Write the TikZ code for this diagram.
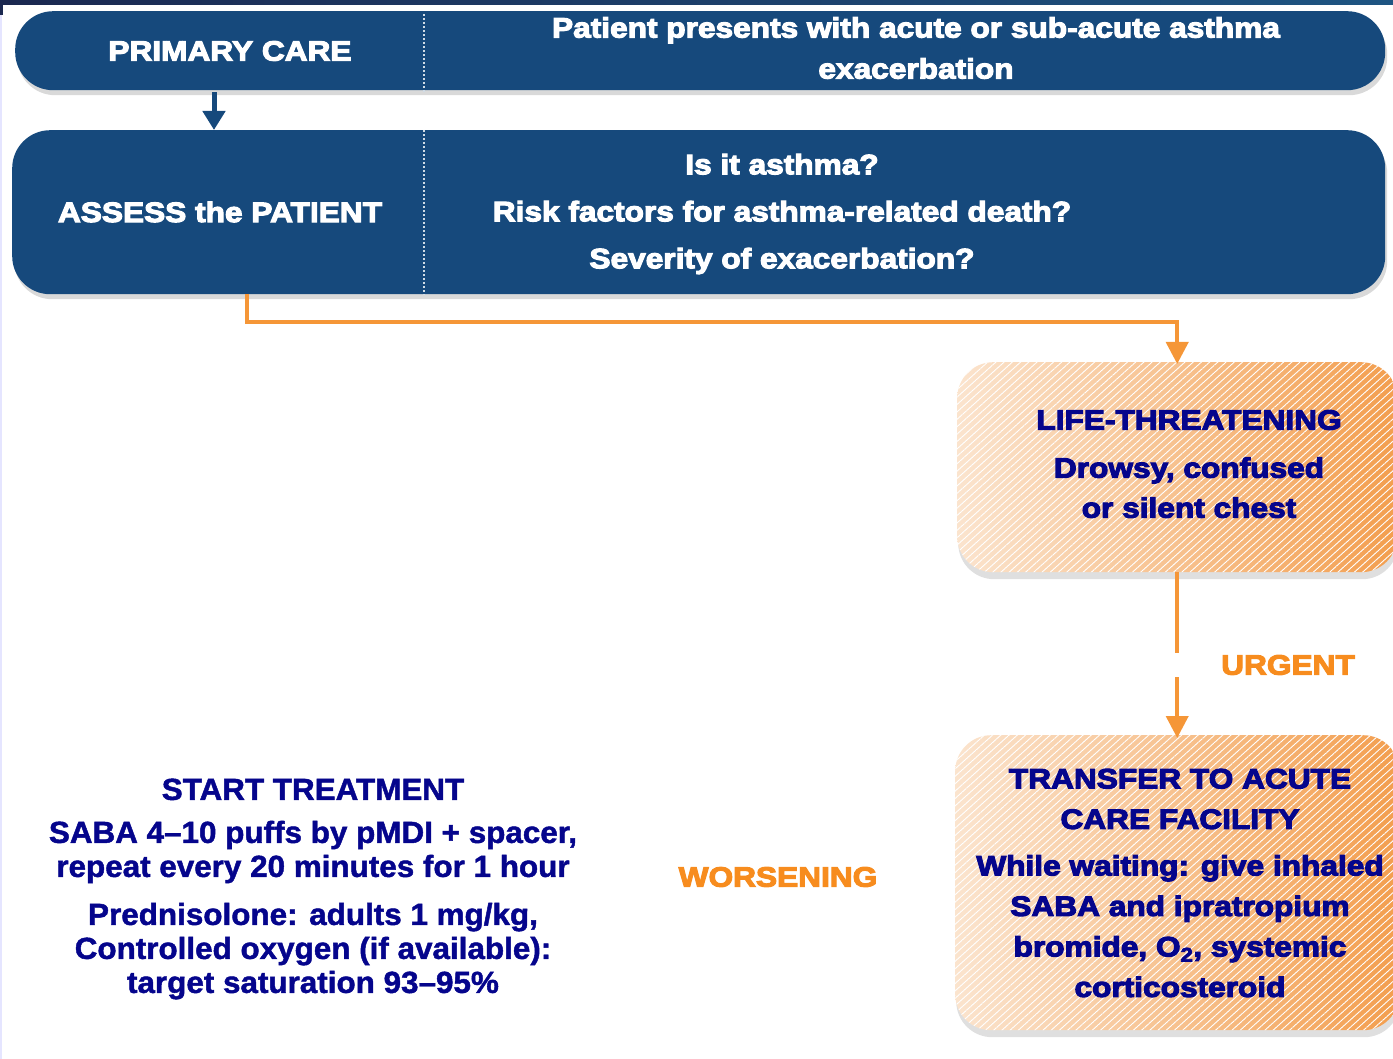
\documentclass[tikz,border=0pt]{standalone}
\usepackage{fontspec}
\setmainfont{Liberation Sans}[BoldFeatures={FakeBold=1.5,FakeStretch=1.03}]
\newfontfamily\heavyfont{Liberation Sans}[BoldFeatures={FakeBold=4,FakeStretch=1.13}]
\usepackage{tikz}
\usetikzlibrary{positioning}
\usetikzlibrary{arrows.meta}
\usetikzlibrary{patterns.meta}
\usetikzlibrary{shadows}
\usepackage{xcolor}
\definecolor{barnavy}{RGB}{22,73,124}
\definecolor{stripnavy}{RGB}{27,40,80}
\definecolor{stripblue}{RGB}{30,85,130}
\definecolor{inkblue}{RGB}{5,5,140}
\definecolor{flow}{RGB}{245,150,55}
\definecolor{flowtext}{RGB}{247,140,30}
\definecolor{peach}{RGB}{251,228,206}
\definecolor{apricot}{RGB}{249,204,160}
\definecolor{amber}{RGB}{243,158,78}
\tikzset{
  bluebar/.style={fill=barnavy, rounded corners=38pt, inner sep=0pt,
    drop shadow={shadow xshift=2pt, shadow yshift=-5pt, opacity=0.3}},
  orangebox/.style={left color=peach, middle color=apricot, right color=amber,
    rounded corners=36pt, inner sep=0pt,
    drop shadow={shadow xshift=1pt, shadow yshift=-7pt, opacity=0.25},
    postaction={fill opacity=0.35, pattern={Lines[angle=42, distance=5.5pt, line width=0.9pt]}, pattern color=white}},
  heavy/.style={font=\heavyfont\bfseries\fontsize{28}{41}\selectfont, align=center, inner sep=2pt},
  plain/.style={font=\bfseries\fontsize{30.5}{34}\selectfont, align=center, inner sep=2pt},
  divider/.style={white!80!barnavy, line width=2pt, dash pattern=on 1.6pt off 2.4pt},
  navyarrow/.style={barnavy, line width=5pt, -{Triangle[width=22pt, length=19pt]}},
  flowline/.style={flow, line width=4pt},
  flowarrow/.style={flowline, -{Triangle[width=22pt, length=22pt]}},
}

\begin{document}
\begin{tikzpicture}[x=1pt, y=-1pt]
  \useasboundingbox (0,0) rectangle (1393,1059);
  % header strip
  \shade[left color=stripnavy, right color=stripblue] (0,0) rectangle (1393,5);
  \fill[stripnavy] (0,0) rectangle (3,15);
  \draw[blue!10, line width=1.5pt] (0.75,15) -- (0.75,1059);

  % BARS
  \node[bluebar, anchor=north west, minimum width=1370pt, minimum height=79pt] (primary) at (15,11) {};
  \node[bluebar, anchor=north west, minimum width=1373pt, minimum height=164pt] (assess) at (12,130) {};
  \coordinate (divx) at (424,0);
  \draw[divider] (primary.north -| divx) ++(0,3) -- ([yshift=-3pt]primary.south -| divx);
  \draw[divider] (assess.north -| divx) -- (assess.south -| divx);

  \node[heavy, white] (primarylabel) at (230,51) {PRIMARY CARE};
  \node[heavy, white] (presents) at (916,48) {Patient presents with acute or sub-acute asthma\\exacerbation};
  \node[heavy, white] (assesslabel) at (220,212) {ASSESS the PATIENT};
  \node[heavy, white, font=\heavyfont\bfseries\fontsize{28}{47}\selectfont] (questions) at (782,214)
    {Is it asthma?\\Risk factors for asthma-related death?\\Severity of exacerbation?};

  % ORANGE BOXES
  \node[orangebox, anchor=north west, minimum width=440pt, minimum height=210pt] (life) at (957,362) {};
  \node[orangebox, anchor=north west, minimum width=444pt, minimum height=295pt] (transfer) at (955,735) {};

  \node[heavy, inkblue, font=\heavyfont\bfseries\fontsize{28}{40}\selectfont] (lifetext) at (1189,464)
    {LIFE-THREATENING\\[8pt]Drowsy, confused\\or silent chest};
  \node[heavy, inkblue, font=\heavyfont\bfseries\fontsize{28}{40.5}\selectfont] (transfertext) at (1180,883)
    {TRANSFER TO ACUTE\\CARE FACILITY\\[6pt]While waiting: give inhaled\\SABA and ipratropium\\bromide, O\textsubscript{2}, systemic\\corticosteroid};

  % START TREATMENT
  \node[plain, inkblue] (start) at (313,889)
    {START TREATMENT\\[9pt]SABA 4--10 puffs by pMDI + spacer,\\repeat every 20 minutes for 1 hour\\[14pt]Prednisolone: adults 1 mg/kg,\\Controlled oxygen (if available):\\target saturation 93--95\%};

  \node[heavy, flowtext] (urgent) at (1288,665) {URGENT};
  \node[heavy, flowtext] (worsening) at (778,877) {WORSENING};

  % CONNECTORS
  \coordinate (downx) at (214,0);
  \coordinate (feedx) at (247,0);
  \draw[navyarrow] ([yshift=-2pt]primary.south -| downx) -- (assess.north -| downx);
  \draw[flowarrow] (assess.south -| feedx) -- ++(0,28) -| ([yshift=-2pt]life.north);
  \draw[flowline] (life.south) -- (life.south |- urgent.north);
  \draw[flowarrow] (life.south |- urgent.south) -- ([yshift=-3pt]transfer.north);
\end{tikzpicture}
\end{document}
